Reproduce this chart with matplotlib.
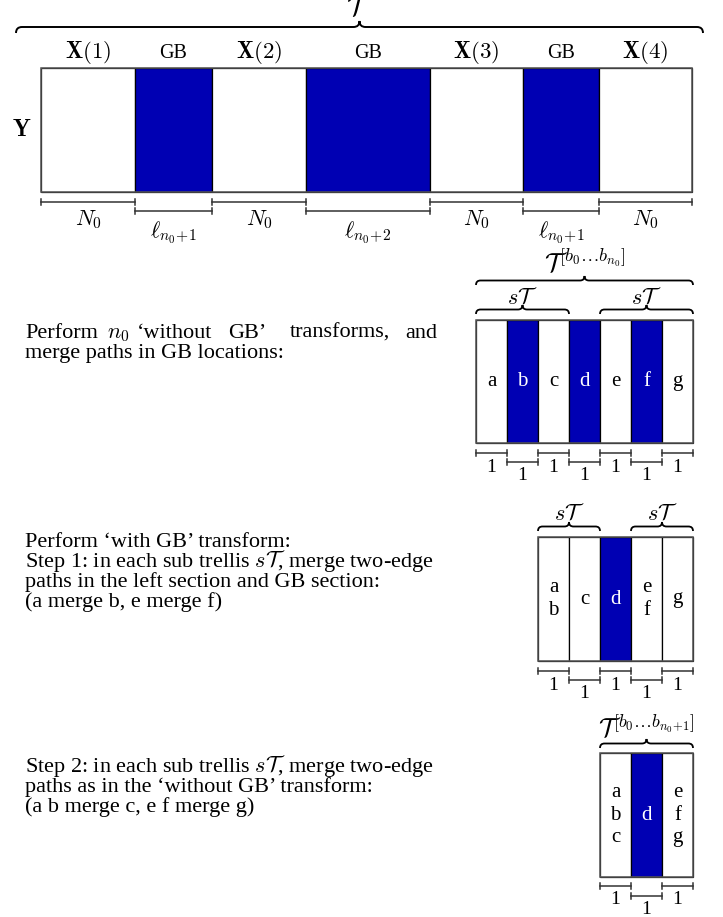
import numpy as np
import matplotlib
matplotlib.use('Agg')
import matplotlib.pyplot as plt
from matplotlib.patches import Rectangle, PathPatch
from matplotlib.path import Path

plt.rcParams['font.family'] = ['Liberation Serif', 'DejaVu Serif']
plt.rcParams['mathtext.fontset'] = 'cm'

BLUE = '#0000b3'
LINE = '#333333'

# top frame: sections and their widths
top_labels = [r'$\mathbf{X}(1)$', 'GB', r'$\mathbf{X}(2)$', 'GB',
              r'$\mathbf{X}(3)$', 'GB', r'$\mathbf{X}(4)$']
top_widths = [94, 77, 94, 124, 93, 76, 93]
top_gb = [0, 1, 0, 1, 0, 1, 0]
top_dims = [r'$N_0$', r'$\ell_{n_0\!+\!1}$', r'$N_0$', r'$\ell_{n_0\!+\!2}$',
            r'$N_0$', r'$\ell_{n_0\!+\!1}$', r'$N_0$']

# trellis after n0 transforms
s0_cells = ['a', 'b', 'c', 'd', 'e', 'f', 'g']
s0_gb = [0, 1, 0, 1, 0, 1, 0]
# step 1
s1_cells = ['a\nb', 'c', 'd', 'e\nf', 'g']
s1_gb = [0, 0, 1, 0, 0]
# step 2
s2_cells = ['a\nb\nc', 'd', 'e\nf\ng']
s2_gb = [0, 1, 0]

cell_w = 31

fig = plt.figure(figsize=(7.23, 9.17), dpi=100)
ax = fig.add_axes([0, 0, 1, 1])
ax.set_xlim(0, 723)
ax.set_ylim(917, 0)
ax.axis('off')


def brace(x0, x1, y, h, lw=1.3):
    xm = (x0 + x1) / 2
    r = h / 2
    verts = [(x0, y), (x0, y - r), (x0 + r, y - r),
             (xm - r, y - r), (xm, y - r), (xm, y - h),
             (xm, y - r), (xm + r, y - r),
             (x1 - r, y - r), (x1, y - r), (x1, y)]
    codes = [Path.MOVETO, Path.CURVE3, Path.CURVE3,
             Path.LINETO, Path.CURVE3, Path.CURVE3,
             Path.CURVE3, Path.CURVE3,
             Path.LINETO, Path.CURVE3, Path.CURVE3]
    ax.add_patch(PathPatch(Path(verts, codes), fill=False, ec='black', lw=lw))


def strip(x0, y0, widths, gb, height, labels=None, size=15):
    edges = x0 + np.concatenate([[0], np.cumsum(widths)])
    for i, w in enumerate(widths):
        ax.add_patch(Rectangle((edges[i], y0), w, height,
                               fc=BLUE if gb[i] else 'white', ec='black', lw=0.9))
    ax.add_patch(Rectangle((edges[0], y0), edges[-1] - edges[0], height,
                           fill=False, ec='#555555', lw=1.1))
    if labels is not None:
        for i, lab in enumerate(labels):
            ax.text((edges[i] + edges[i + 1]) / 2, y0 + height / 2, lab,
                    ha='center', va='center', fontsize=size, linespacing=1.25,
                    color='white' if gb[i] else 'black')
    return edges


def dims(edges, y_hi, y_lo, labels, off_hi, off_lo, size=14):
    for i in range(len(edges) - 1):
        hi = i % 2 == 0
        y = y_hi if hi else y_lo
        a, b = edges[i], edges[i + 1]
        ax.plot([a, b], [y, y], color=LINE, lw=1.1)
        ax.plot([a, a], [y - 3, y + 3], color=LINE, lw=1.1)
        ax.plot([b, b], [y - 3, y + 3], color=LINE, lw=1.1)
        ax.text((a + b) / 2, y + (off_hi if hi else off_lo), labels[i],
                ha='center', va='center', fontsize=size)


# ---- top frame ----
e = strip(41, 68, top_widths, top_gb, 124)
for i, lab in enumerate(top_labels):
    ax.text((e[i] + e[i + 1]) / 2, 53, lab, ha='center', va='center',
            fontsize=16.5 if lab != 'GB' else 14.5)
ax.text(22, 131, r'$\mathbf{Y}$', ha='center', va='center', fontsize=17)
dims(e, 202, 211, top_dims, 18, 22, size=16)
brace(16, 703, 33, 12, lw=1.4)
ax.text(359, 15, r'$\mathcal{T}$', ha='center', va='baseline', fontsize=20)

# ---- after n0 transforms ----
e0 = strip(476, 320, [cell_w] * 7, s0_gb, 123, s0_cells)
dims(e0, 453, 462, ['1'] * 7, 14, 14)
brace(e0[0], e0[3], 314, 9)
brace(e0[4], e0[7], 314, 9)
ax.text((e0[0] + e0[3]) / 2, 298, r'$s\mathcal{T}$', ha='center', va='center', fontsize=16)
ax.text((e0[4] + e0[7]) / 2, 298, r'$s\mathcal{T}$', ha='center', va='center', fontsize=16)
brace(e0[0], e0[7], 285, 9)
ax.text((e0[0] + e0[7]) / 2, 262, r'$\mathcal{T}^{[b_0\ldots b_{n_0}]}$',
        ha='center', va='center', fontsize=19)

# ---- step 1 ----
e1 = strip(538, 537, [cell_w] * 5, s1_gb, 124, s1_cells)
dims(e1, 671, 680, ['1'] * 5, 14, 14)
brace(e1[0], e1[2], 531, 9)
brace(e1[3], e1[5], 531, 9)
ax.text((e1[0] + e1[2]) / 2, 514, r'$s\mathcal{T}$', ha='center', va='center', fontsize=16)
ax.text((e1[3] + e1[5]) / 2, 514, r'$s\mathcal{T}$', ha='center', va='center', fontsize=16)

# ---- step 2 ----
e2 = strip(600, 753, [cell_w] * 3, s2_gb, 124, s2_cells)
dims(e2, 886, 896, ['1'] * 3, 14, 14)
brace(e2[0], e2[3], 748, 9)
ax.text((e2[0] + e2[3]) / 2, 727, r'$\mathcal{T}^{[b_0\ldots b_{n_0\!+\!1}]}$',
        ha='center', va='center', fontsize=18.5)

# ---- text ----
fs = 16
words = [(25, 'Perform'), (107, r'$n_0$'), (137, '\u2018without'),
         (228, 'GB\u2019'), (290, 'transforms,')]
for x, w in words:
    ax.text(x, 338, w, ha='left', va='baseline', fontsize=fs)
ax.text(437, 338, 'and', ha='right', va='baseline', fontsize=fs)
ax.text(25, 358, 'merge paths in GB locations:', va='baseline', fontsize=fs)

block2 = ['Perform \u2018with GB\u2019 transform:',
          r'Step 1: in each sub trellis $s\mathcal{T}$, merge two-edge',
          'paths in the left section and GB section:',
          '(a merge b, e merge f)']
for k, s in enumerate(block2):
    ax.text(25, 547 + 20 * k, s, va='baseline', fontsize=fs)

block3 = [r'Step 2: in each sub trellis $s\mathcal{T}$, merge two-edge',
          'paths as in the \u2018without GB\u2019 transform:',
          '(a b merge c, e f merge g)']
for k, s in enumerate(block3):
    ax.text(25, 772 + 20 * k, s, va='baseline', fontsize=fs)

fig.savefig('out.png', dpi=100)
